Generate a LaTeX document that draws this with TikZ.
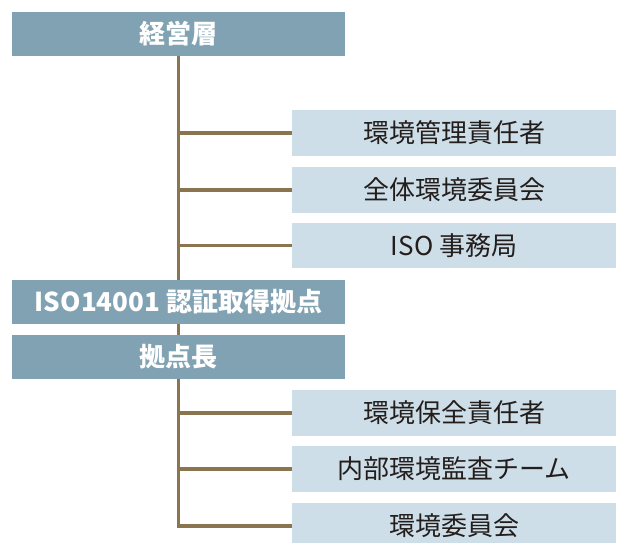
\documentclass[tikz,border=0pt]{standalone}
\usepackage{fontspec}
\newfontfamily\jp{Noto Sans CJK JP}
\definecolor{darkbox}{RGB}{128,162,178}
\definecolor{lightbox}{RGB}{206,222,232}
\definecolor{linecol}{RGB}{138,117,80}
\definecolor{txt}{RGB}{35,30,28}
\begin{document}
\begin{tikzpicture}[x=1pt,y=-1pt,
  darknode/.style={fill=darkbox, inner sep=0pt, outer sep=0pt, minimum width=333pt, text=white, font=\jp\bfseries\fontsize{26}{26}\selectfont},
  lightnode/.style={fill=lightbox, inner sep=0pt, outer sep=0pt, minimum width=324pt, minimum height=46pt, text=txt, font=\jp\fontsize{26}{26}\selectfont},
  conn/.style={draw=linecol, line width=3.3pt}]
\useasboundingbox (0,0) rectangle (617,542);
\clip (0,0) rectangle (617,542);
\node[darknode, minimum height=44pt] (top) at (178.5,34) {経営層};
\node[lightnode] (r1) at (454,133) {環境管理責任者};
\node[lightnode] (r2) at (454,190) {全体環境委員会};
\node[lightnode, minimum height=45pt] (r3) at (454,245.5) {ISO 事務局};
\node[darknode, minimum height=43.5pt] (iso) at (178.5,301.75) {ISO14001 認証取得拠点};
\node[darknode, minimum height=43.5pt] (kyo) at (178.5,356.75) {拠点長};
\node[lightnode] (s1) at (454,413) {環境保全責任者};
\node[lightnode] (s2) at (454,469) {内部環境監査チーム};
\node[lightnode] (s3) at (454,526) {環境委員会};
\draw[conn] (top.south) -- (iso.north);
\draw[conn] (iso.south) -- (kyo.north);
\draw[conn] (top.south |- r1.west) -- (r1.west);
\draw[conn] (top.south |- r2.west) -- (r2.west);
\draw[conn] (top.south |- r3.west) -- (r3.west);
\draw[conn] (kyo.south |- s1.west) -- (s1.west);
\draw[conn] (kyo.south |- s2.west) -- (s2.west);
\draw[conn] (kyo.south) |- (s3.west);
\end{tikzpicture}
\end{document}
